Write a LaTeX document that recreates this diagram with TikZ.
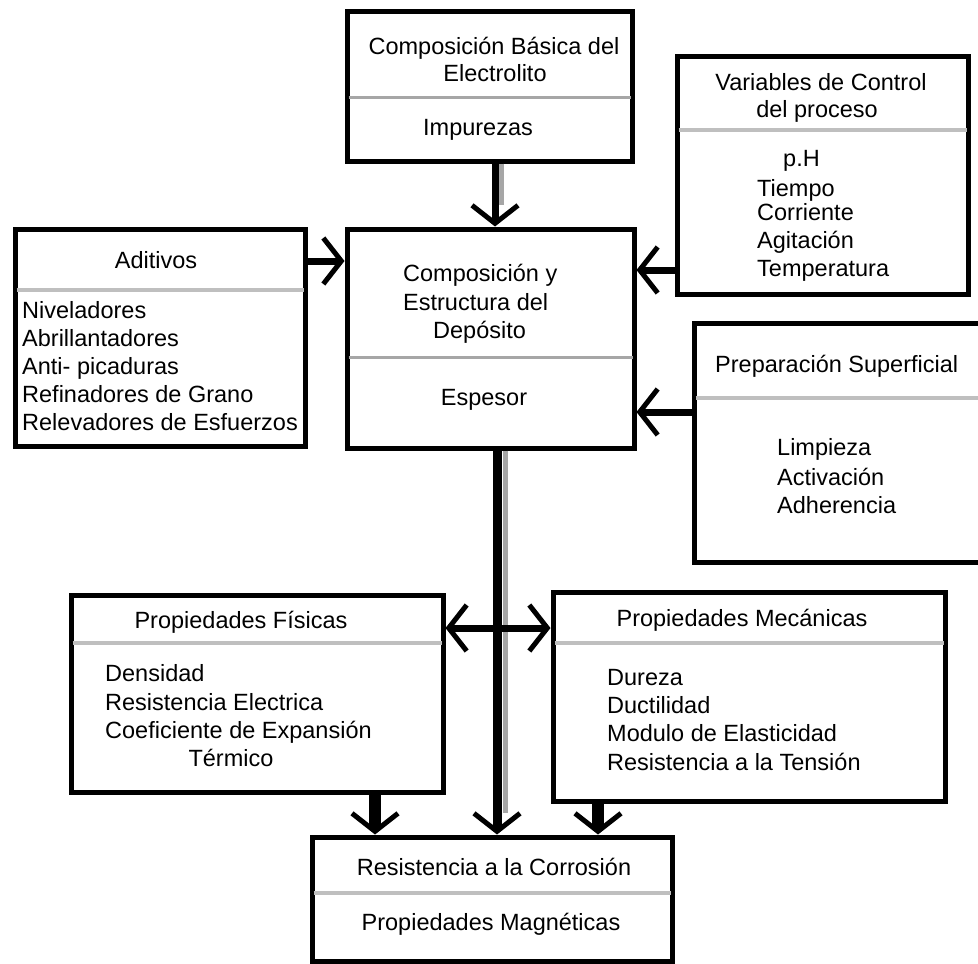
\documentclass[tikz,border=0pt]{standalone}
\usepackage{fontspec}
\setmainfont{Liberation Sans}
\usetikzlibrary{arrows.meta}
\begin{document}
\begin{tikzpicture}[x=1pt,y=-1pt,
  box/.style={draw=black, line width=5pt, fill=white, inner sep=0pt, rectangle},
  divider/.style={draw=black!25, line width=4pt, shorten <=4pt, shorten >=4pt},
  lbl/.style={font=\fontsize{23.5}{27.5}\selectfont, inner sep=0pt, text=black, yshift=-3.5pt},
  lc/.style={lbl, anchor=mid},
  ll/.style={lbl, anchor=mid west},
  barb/.tip={Straight Barb[length=18pt,width=46pt,line width=5pt]},
  conn/.style={draw=black, line width=7pt, -barb},
  dbl/.style={draw=black, line width=7pt, barb-barb},
  shadowline/.style={draw=black!35, line width=5pt},
]
\useasboundingbox (0,0) rectangle (978,964);
\clip (0,0) rectangle (978,964);
\fill[white] (0,0) rectangle (978,964);

% boxes
\node[box, minimum width=285pt, minimum height=150pt] (elec) at (489.5,86) {};
\node[box, minimum width=287pt, minimum height=219pt] (dep) at (490.5,338.5) {};
\node[box, minimum width=290pt, minimum height=217pt] (adit) at (160,337.5) {};
\node[box, minimum width=291pt, minimum height=238pt] (vars) at (822.5,175) {};
\node[box, minimum width=306pt, minimum height=239pt] (prep) at (847,442.5) {};
\node[box, minimum width=372pt, minimum height=197pt] (fis) at (257,693.5) {};
\node[box, minimum width=392pt, minimum height=209pt] (mec) at (749,696.5) {};
\node[box, minimum width=360pt, minimum height=124pt] (res) at (492,899) {};

% dividers
\coordinate (dElec) at (0,97);
\coordinate (dDep) at (0,357);
\coordinate (dAdit) at (0,290);
\coordinate (dVars) at (0,130);
\coordinate (dPrep) at (0,398);
\coordinate (dFis) at (0,643);
\coordinate (dMec) at (0,643);
\coordinate (dRes) at (0,893);
\draw[divider, draw=black!35, line width=3pt] (elec.west |- dElec) -- (elec.east |- dElec);
\draw[divider, draw=black!35, line width=3pt] (dep.west |- dDep) -- (dep.east |- dDep);
\draw[divider] (adit.west |- dAdit) -- (adit.east |- dAdit);
\draw[divider] (vars.west |- dVars) -- (vars.east |- dVars);
\draw[divider] (prep.west |- dPrep) -- (prep.east |- dPrep);
\draw[divider] (fis.west |- dFis) -- (fis.east |- dFis);
\draw[divider] (mec.west |- dMec) -- (mec.east |- dMec);
\draw[divider] (res.west |- dRes) -- (res.east |- dRes);

% connector guide coordinates
\coordinate (vTop) at (495,0);
\coordinate (vMain) at (497,0);
\coordinate (vFis) at (375,0);
\coordinate (vMec) at (598,0);
\coordinate (hAdit) at (0,261);
\coordinate (hVars) at (0,270);
\coordinate (hPrep) at (0,412);
\coordinate (hProp) at (0,628);
\coordinate (sTop) at (501,0);
\coordinate (sMain) at (505,0);

% connectors
\draw[shadowline] (elec.south -| sTop) -- ([yshift=22pt]dep.north -| sTop);
\draw[conn] (elec.south -| vTop) -- (dep.north -| vTop);
\draw[shadowline] (dep.south -| sMain) -- ([yshift=22pt]res.north -| sMain);
\draw[conn, line width=9pt] (dep.south -| vMain) -- (res.north -| vMain);
\draw[conn] (adit.east |- hAdit) -- (dep.west |- hAdit);
\draw[conn] (vars.west |- hVars) -- (dep.east |- hVars);
\draw[conn] (prep.west |- hPrep) -- (dep.east |- hPrep);
\draw[dbl] (fis.east |- hProp) -- (mec.west |- hProp);
\draw[conn, line width=12pt] (fis.south -| vFis) -- (res.north -| vFis);
\draw[conn, line width=12pt] (mec.south -| vMec) -- (res.north -| vMec);

% texts: Composicion basica
\node[lc] (t1) at (494,48) {Composición Básica del};
\node[lc] (t2) at (495,75) {Electrolito};
\node[lc] (t3) at (478,129) {Impurezas};
% deposito
\node[ll] (t4) at (403,275) {Composición y};
\node[ll] (t5) at (403,304) {Estructura del};
\node[ll] (t6) at (433,332) {Depósito};
\node[lc] (t7) at (484,399) {Espesor};
% aditivos
\node[lc] (t8) at (156,262) {Aditivos};
\node[ll] (t9) at (22,312) {Niveladores};
\node[ll] (t10) at (22,340) {Abrillantadores};
\node[ll] (t11) at (22,368) {Anti- picaduras};
\node[ll] (t12) at (22,396) {Refinadores de Grano};
\node[ll] (t13) at (22,424) {Relevadores de Esfuerzos};
% variables
\node[lc] (t14) at (821,84) {Variables de Control};
\node[lc] (t15) at (817,111) {del proceso};
\node[ll] (t16) at (783,160) {p.H};
\node[ll] (t17) at (757,190) {Tiempo};
\node[ll] (t18) at (757,214) {Corriente};
\node[ll] (t19) at (757,242) {Agitación};
\node[ll] (t20) at (757,270) {Temperatura};
% preparacion
\node[ll] (t21) at (715,366) {Preparación Superficial};
\node[ll] (t22) at (777,449) {Limpieza};
\node[ll] (t23) at (777,479) {Activación};
\node[ll] (t24) at (777,507) {Adherencia};
% fisicas
\node[lc] (t25) at (241,622) {Propiedades Físicas};
\node[ll] (t26) at (105,675) {Densidad};
\node[ll] (t27) at (105,704) {Resistencia Electrica};
\node[ll] (t28) at (105,732) {Coeficiente de Expansión};
\node[lc] (t29) at (231,760) {Térmico};
% mecanicas
\node[lc] (t30) at (742,620) {Propiedades Mecánicas};
\node[ll] (t31) at (607,679) {Dureza};
\node[ll] (t32) at (607,707) {Ductilidad};
\node[ll] (t33) at (607,735) {Modulo de Elasticidad};
\node[ll] (t34) at (607,764) {Resistencia a la Tensión};
% resistencia
\node[lc] (t35) at (494,869) {Resistencia a la Corrosión};
\node[lc] (t36) at (491,924) {Propiedades Magnéticas};
\end{tikzpicture}
\end{document}
